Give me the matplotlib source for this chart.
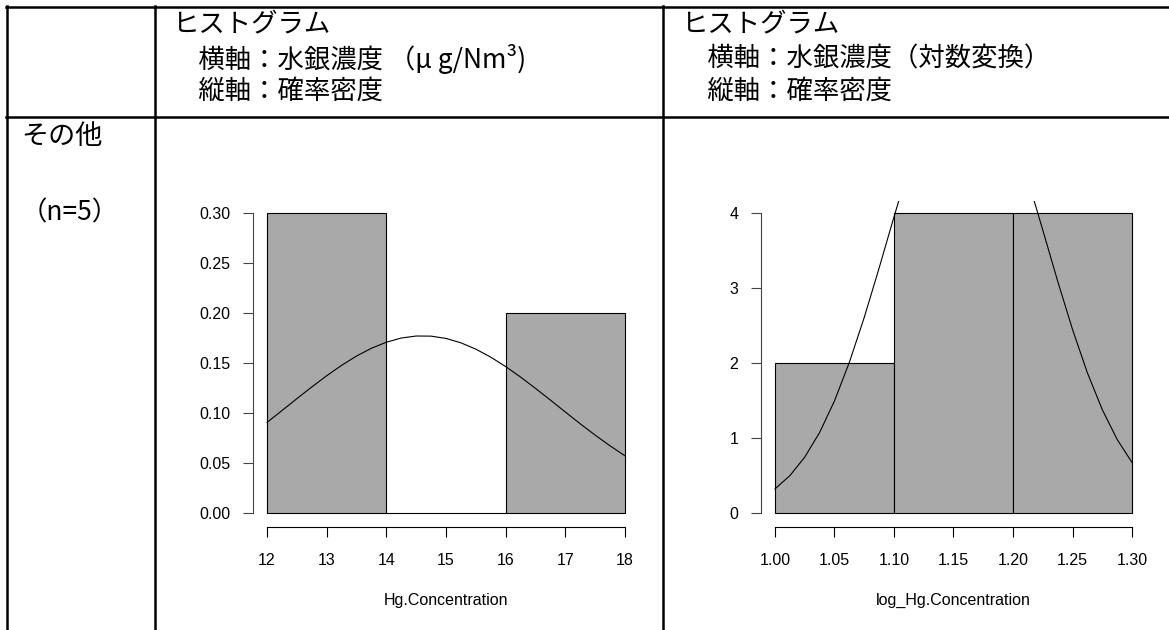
import matplotlib.pyplot as plt
from matplotlib.lines import Line2D

# --- data ---
hg_edges = [12, 14, 16, 18]
hg_density = [0.30, 0.00, 0.20]
log_edges = [1.00, 1.10, 1.20, 1.30]
log_density = [2, 4, 4]

# fitted normal density curves
hg_curve_x = [12.00, 12.25, 12.50, 12.75, 13.00, 13.25, 13.50, 13.75, 14.00,
              14.25, 14.50, 14.75, 15.00, 15.25, 15.50, 15.75, 16.00, 16.25,
              16.50, 16.75, 17.00, 17.25, 17.50, 17.75, 18.00]
hg_curve_y = [0.0905, 0.1023, 0.1142, 0.1259, 0.1371, 0.1475, 0.1568, 0.1646,
              0.1706, 0.1748, 0.1768, 0.1767, 0.1744, 0.1700, 0.1637, 0.1557,
              0.1463, 0.1358, 0.1245, 0.1128, 0.1009, 0.0891, 0.0778, 0.0671,
              0.0571]
log_curve_x = [1.0000, 1.0125, 1.0250, 1.0375, 1.0500, 1.0625, 1.0750, 1.0875,
               1.1000, 1.1125, 1.1250, 1.1375, 1.1500, 1.1625, 1.1750, 1.1875,
               1.2000, 1.2125, 1.2250, 1.2375, 1.2500, 1.2625, 1.2750, 1.2875,
               1.3000]
log_curve_y = [0.321, 0.497, 0.744, 1.072, 1.493, 2.007, 2.605, 3.263, 3.945,
               4.603, 5.186, 5.639, 5.919, 5.997, 5.866, 5.538, 5.047, 4.440,
               3.770, 3.090, 2.445, 1.867, 1.377, 0.980, 0.673]

hg_xticks = [12, 13, 14, 15, 16, 17, 18]
hg_yticks = [0.00, 0.05, 0.10, 0.15, 0.20, 0.25, 0.30]
log_xticks = [1.00, 1.05, 1.10, 1.15, 1.20, 1.25, 1.30]
log_yticks = [0, 1, 2, 3, 4]

header_left = ['ヒストグラム', '\u3000横軸：水銀濃度 （μ g/Nm³)', '\u3000縦軸：確率密度']
header_right = ['ヒストグラム', '\u3000横軸：水銀濃度（対数変換）', '\u3000縦軸：確率密度']
row_label = ['その他', '（n=5）']

W, H = 1169, 630
JP = ['Noto Sans CJK JP', 'DejaVu Sans']
plt.rcParams['font.family'] = ['Liberation Sans', 'DejaVu Sans']

fig = plt.figure(figsize=(W / 100, H / 100), dpi=100)


def px(x, y):
    return x / W, 1 - y / H


# --- table grid ---
def hline(y, x0, x1):
    (a, b), (c, d) = px(x0, y), px(x1, y)
    fig.add_artist(Line2D([a, c], [b, d], color='black', lw=1.8))


def vline(x, y0, y1):
    (a, b), (c, d) = px(x, y0), px(x, y1)
    fig.add_artist(Line2D([a, c], [b, d], color='black', lw=1.8))


hline(7, 6, W)
hline(117, 6, W)
vline(7, 6, H)
vline(155, 6, H)
vline(663, 6, H)

# --- header texts ---
for i, (tl, tr) in enumerate(zip(header_left, header_right)):
    yc = [25, 59, 91][i]
    fig.text(*px(172, yc), tl, family=JP, fontsize=19, va='center', ha='left')
    fig.text(*px(681, yc), tr, family=JP, fontsize=19, va='center', ha='left')

fig.text(*px(21, 137), row_label[0], family=JP, fontsize=19.5, va='center', ha='left')
fig.text(*px(21, 213), row_label[1], family=JP, fontsize=19, va='center', ha='left')


def hist_panel(rect, edges, dens, cx, cy, xticks, yticks, xfmt, yfmt, xlabel):
    ax = fig.add_axes(rect)
    lefts = edges[:-1]
    widths = [b - a for a, b in zip(edges[:-1], edges[1:])]
    ax.bar(lefts, dens, width=widths, align='edge', color='#a9a9a9',
           edgecolor='black', linewidth=0.8)
    ax.plot(cx, cy, color='black', lw=0.8)

    x0, x1 = edges[0], edges[-1]
    y0, y1 = 0, max(dens)
    ax.set_xlim(x0 - 0.04 * (x1 - x0), x1 + 0.04 * (x1 - x0))
    ax.set_ylim(y0 - 0.04 * (y1 - y0), y1 + 0.04 * (y1 - y0))

    for s in ['top', 'right']:
        ax.spines[s].set_visible(False)
    ax.spines['left'].set_bounds(yticks[0], yticks[-1])
    ax.spines['bottom'].set_bounds(xticks[0], xticks[-1])
    ax.spines['left'].set_color('#444444')
    for s in ['left', 'bottom']:
        ax.spines[s].set_linewidth(0.8)
    ax.spines['bottom'].set_position(('outward', 1.5))

    ax.set_xticks(xticks)
    ax.set_xticklabels([xfmt.format(v) for v in xticks])
    ax.set_yticks(yticks)
    ax.set_yticklabels([yfmt.format(v) for v in yticks])
    ax.tick_params(direction='out', length=7, width=0.8, labelsize=11.5, pad=9)
    ax.tick_params(axis='x', pad=11.5)
    ax.tick_params(axis='y', color='#444444')
    ax.patch.set_alpha(0)
    ax.text(0.5, -0.232, xlabel, transform=ax.transAxes, ha='center',
            va='center', fontsize=11.5)
    return ax


hist_panel([252.7 / W, 105 / H, 386.6 / W, 324.3 / H], hg_edges, hg_density,
           hg_curve_x, hg_curve_y, hg_xticks, hg_yticks, '{:d}', '{:.2f}',
           'Hg.Concentration')
hist_panel([760.7 / W, 105 / H, 385.6 / W, 324.3 / H], log_edges, log_density,
           log_curve_x, log_curve_y, log_xticks, log_yticks, '{:.2f}', '{:d}',
           'log_Hg.Concentration')

fig.savefig('out.png', dpi=100)
